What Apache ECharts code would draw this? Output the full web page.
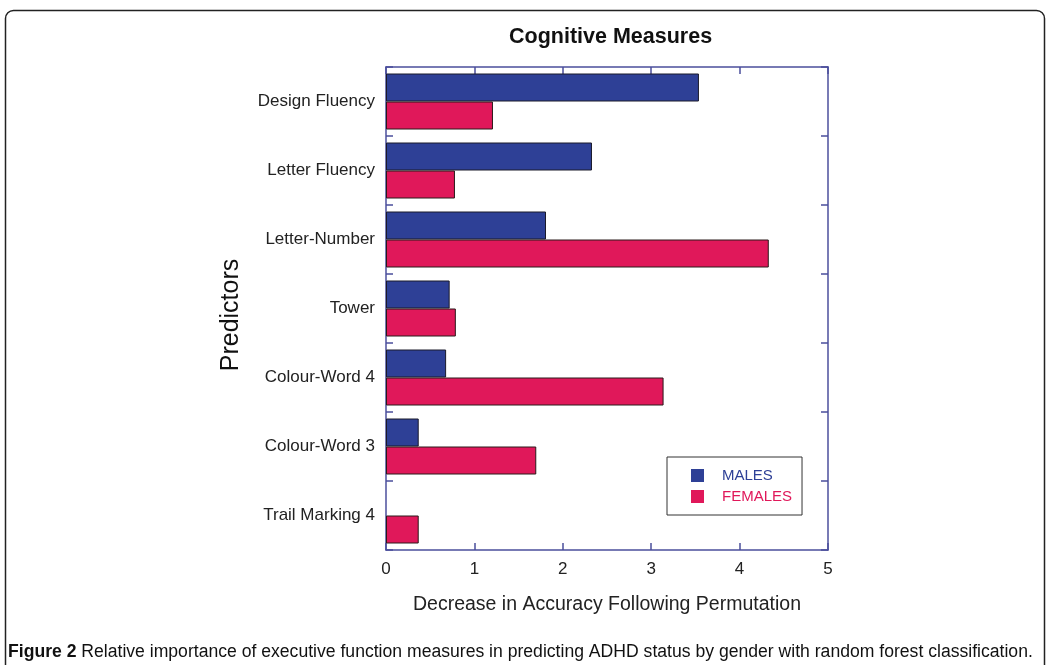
<!DOCTYPE html>
<html lang="en">
<head>
  <meta charset="UTF-8">
  <title>Cognitive Measures</title>
  <style>
    html, body { margin: 0; padding: 0; background: #fff; }
    #chart { width: 1046px; height: 665px; }
  </style>
</head>
<body>
  <div id="chart"></div>
  <script src="https://cdn.jsdelivr.net/npm/echarts@6/dist/echarts.min.js"></script>
  <script>
    var predictors = ['Design Fluency', 'Letter Fluency', 'Letter-Number', 'Tower',
      'Colour-Word 4', 'Colour-Word 3', 'Trail Marking 4']
    var males = [3.54, 2.33, 1.81, 0.72, 0.68, 0.37, 0]
    var females = [1.21, 0.78, 4.33, 0.79, 3.14, 1.70, 0.37]
    var xTicks = [0, 1, 2, 3, 4, 5]

    var axisBlue = '#4b4f9c'
    var maleColor = '#2e4096'
    var femaleColor = '#e0185a'
    var font = 'Liberation Sans, Arial, sans-serif'

    // no outline for empty bars
    function barData(values) {
      return values.map(function (v) {
        return { value: v, itemStyle: { borderWidth: v ? 1 : 0 } }
      })
    }

    var tickStyle = { show: true, inside: true, length: 7, lineStyle: { color: axisBlue, width: 1.5 } }
    var lineStyle = { show: true, onZero: false, lineStyle: { color: axisBlue, width: 1.5 } }

    var chart = echarts.init(document.getElementById('chart'))
    var option = {
      animation: false,
      textStyle: { fontFamily: font },
      title: {
        text: 'Cognitive Measures',
        left: 504,
        top: 21,
        textStyle: { fontSize: 21.5, fontWeight: 'bold', color: '#111', fontFamily: font }
      },
      legend: {
        orient: 'vertical',
        left: 667,
        top: 457,
        padding: [11, 10, 11, 24],
        itemWidth: 13,
        itemHeight: 13,
        itemGap: 6,
        icon: 'rect',
        borderColor: '#333',
        borderWidth: 1,
        itemStyle: { borderWidth: 0 },
        textStyle: { fontSize: 15, fontFamily: font, padding: [0, 0, 0, 13] },
        data: [
          { name: 'MALES', textStyle: { color: maleColor } },
          { name: 'FEMALES', textStyle: { color: femaleColor } }
        ]
      },
      grid: { left: 386, right: 218, top: 67, bottom: 115 },
      xAxis: [{
        type: 'value',
        min: xTicks[0],
        max: xTicks[xTicks.length - 1],
        interval: 1,
        position: 'bottom',
        name: 'Decrease in Accuracy Following Permutation',
        nameLocation: 'middle',
        nameGap: 45,
        nameTextStyle: { fontSize: 19.5, color: '#222' },
        axisLine: lineStyle,
        axisTick: tickStyle,
        axisLabel: { fontSize: 17, color: '#222', margin: 11 },
        splitLine: { show: false }
      }, {
        type: 'value',
        min: xTicks[0],
        max: xTicks[xTicks.length - 1],
        interval: 1,
        position: 'top',
        axisLine: lineStyle,
        axisTick: tickStyle,
        axisLabel: { show: false },
        splitLine: { show: false }
      }],
      yAxis: [{
        type: 'category',
        data: predictors,
        inverse: true,
        position: 'left',
        axisLine: lineStyle,
        axisTick: tickStyle,
        axisLabel: { fontSize: 17, color: '#222', margin: 11 }
      }, {
        type: 'category',
        data: predictors,
        inverse: true,
        position: 'right',
        axisLine: lineStyle,
        axisTick: tickStyle,
        axisLabel: { show: false }
      }],
      series: [{
        name: 'MALES',
        type: 'bar',
        data: barData(males),
        barWidth: 28,
        barGap: '0%',
        itemStyle: { color: maleColor, borderColor: '#1a1a2a', borderWidth: 1 }
      }, {
        name: 'FEMALES',
        type: 'bar',
        data: barData(females),
        barWidth: 28,
        barGap: '0%',
        itemStyle: { color: femaleColor, borderColor: '#2a1a1a', borderWidth: 1 }
      }],
      graphic: [{
        type: 'rect',
        shape: { x: 5.5, y: 10.5, width: 1039, height: 700, r: 8 },
        style: { fill: 'none', stroke: '#222', lineWidth: 1.5 },
        silent: true
      }, {
        type: 'text',
        x: 231,
        y: 315,
        rotation: Math.PI / 2,
        style: {
          text: 'Predictors',
          font: '25px ' + font,
          fill: '#111',
          align: 'center',
          verticalAlign: 'middle'
        }
      }, {
        type: 'text',
        left: 8,
        top: 643,
        style: {
          text: '{b|Figure 2} Relative importance of executive function measures in predicting ADHD status by gender with random forest classification.',
          font: '17.6px ' + font,
          fill: '#111',
          rich: {
            b: { fontWeight: 'bold', fontSize: 17.6, fontFamily: font, fill: '#111' }
          }
        }
      }]
    }
    chart.setOption(option)
  </script>
</body>
</html>
